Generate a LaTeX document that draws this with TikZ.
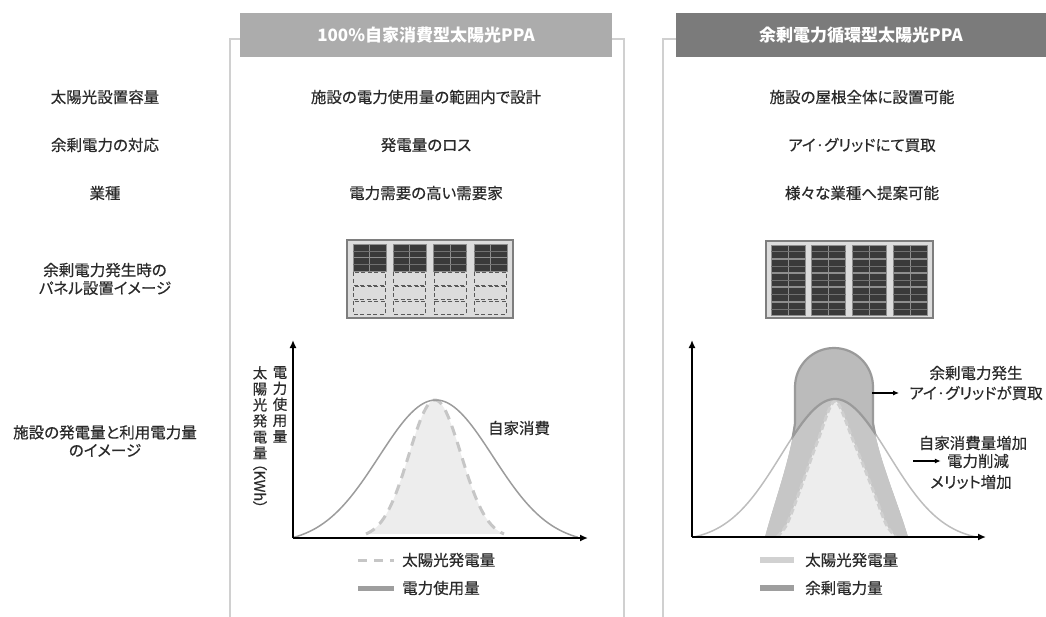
\documentclass[tikz,border=0pt]{standalone}
\usepackage{fontspec}
\setmainfont{Noto Sans CJK JP}[RawFeature=+palt]
\newfontfamily\jpm{Noto Sans CJK JP}[RawFeature=+palt, FakeBold=0.45]
\usetikzlibrary{arrows.meta}
\definecolor{frame}{HTML}{D0D0D0}
\definecolor{hdrL}{HTML}{ACACAC}
\definecolor{hdrR}{HTML}{7B7B7B}
\definecolor{txt}{HTML}{2A2A2A}
\definecolor{panelbg}{HTML}{DCDCDC}
\definecolor{panelbd}{HTML}{7E7E7E}
\definecolor{cellc}{HTML}{3A3A3A}
\definecolor{cellbd}{HTML}{8E8E8E}
\definecolor{curveL}{HTML}{9C9C9C}
\definecolor{dashc}{HTML}{C6C6C6}
\definecolor{lightfill}{HTML}{EDEDED}
\definecolor{bellR}{HTML}{BDBDBD}
\definecolor{bandc}{HTML}{C6C6C6}
\definecolor{capfill}{HTML}{BBBBBB}
\definecolor{capstroke}{HTML}{9A9A9A}
\begin{document}
\begin{tikzpicture}[x=1pt,y=-1pt,
  declare function={
    gwl(\t)=538-max(0,138*(exp(-0.5*((\t-436)/57)*((\t-436)/57))-0.04)/0.96);
    gdl(\t)=538-138*exp(-0.5*((\t-435)/26)*((\t-435)/26));
    gwr(\t)=537-max(0,138*(exp(-0.5*((\t-835)/54)*((\t-835)/54))-0.033)/0.967);
  },
  lbl/.style={font=\jpm\fontsize{15.5}{18}\selectfont, text=txt, inner sep=0pt, align=center},
  vlbl/.style={font=\jpm\fontsize{14.5}{16}\selectfont, text=txt, inner sep=0pt, align=center},
  hdr/.style={font=\bfseries\fontsize{17}{20}\selectfont, text=white, inner sep=0pt, minimum height=44pt},
  frameline/.style={draw=frame, line width=2pt},
  panelbox/.style={draw=panelbd, fill=panelbg, line width=1.6pt, inner sep=0pt},
  darkcell/.style={fill=cellc, draw=cellbd, line width=0.8pt},
  dashcell/.style={draw=black!65, line width=1.1pt, dash pattern=on 4pt off 2.5pt},
  axis/.style={line width=2pt, -{Latex[length=8pt,width=7pt]}},
  smallarrow/.style={line width=1.5pt, -{Latex[length=6pt,width=5pt]}},
  ]
\useasboundingbox (0,0) rectangle (1046,617);

% frames
\draw[frameline] (240,39) -- (230,39) -- (230,617);
\draw[frameline] (612,39) -- (624,39) -- (624,617);
\draw[frameline] (676,39) -- (663,39) -- (663,617);

% headers
\node[hdr, fill=hdrL, minimum width=372pt] (h1) at (426,35) {100\%自家消費型太陽光PPA};
\node[hdr, fill=hdrR, minimum width=370pt] (h2) at (861,35) {余剰電力循環型太陽光PPA};

% row labels
\node[lbl] (r1) at (105,97) {太陽光設置容量};
\node[lbl] (r2) at (105,145) {余剰電力の対応};
\node[lbl] (r3) at (105,193) {業種};
\node[lbl] (r4) at (105,279) {余剰電力発生時の\\パネル設置イメージ};
\node[lbl] (r5) at (105,441) {施設の発電量と利用電力量\\のイメージ};

% column texts
\node[lbl] (a1) at (426,97) {施設の電力使用量の範囲内で設計};
\node[lbl] (a2) at (426,145) {発電量のロス};
\node[lbl] (a3) at (426,193) {電力需要の高い需要家};
\node[lbl] (b1) at (862,97) {施設の屋根全体に設置可能};
\node[lbl] (b2) at (862,145) {アイ·グリッドにて買取};
\node[lbl] (b3) at (862,193) {様々な業種へ提案可能};

% left panel
\node[panelbox, minimum width=166pt, minimum height=78pt] (p1) at (430,279) {};
\foreach \i in {0,...,3}{
  \foreach \r in {0,1}{
    \foreach \c in {0,1}{
      \draw[darkcell] ({353+40.3*\i+16.5*\c},{244+13.7*\r}) rectangle ++(16.5,13.7);
    }
    \draw[cellbd!80!black, line width=0.6pt] ({353+40.3*\i},{244+13.7*\r+6.85}) -- ++(33,0);
  }
  \foreach \r in {0,1,2}{
    \draw[dashcell] ({353.6+40.3*\i},{272.5+14.4*\r}) rectangle ++(32,12.8);
  }
}

% right panel
\node[panelbox, minimum width=167pt, minimum height=77pt] (p2) at (849.5,279.5) {};
\foreach \i in {0,...,3}{
  \foreach \r in {0,...,4}{
    \foreach \c in {0,1}{
      \draw[darkcell] ({771+40.7*\i+17*\c},{245+14.3*\r}) rectangle ++(17,13.3);
    }
    \draw[cellbd!80!black, line width=0.6pt] ({771+40.7*\i},{245+14.3*\r+6.65}) -- ++(34,0);
  }
}

% ---------- left chart ----------
\coordinate (L0) at (293,538);
\coordinate (Ly) at (293,340);
\coordinate (Lx) at (588,538);
\fill[lightfill] plot[domain=366:504, samples=80] (\x,{gdl(\x)}) -- cycle;
\draw[dashc, line width=3pt, dash pattern=on 10pt off 7pt] plot[domain=366:504, samples=80] (\x,{gdl(\x)});
\draw[curveL, line width=1.5pt] plot[domain=294:578, samples=120] (\x,{gwl(\x)});
\draw[axis] (L0) -- (Ly);
\draw[axis] (L0) -- (Lx);
\node[lbl] (lc) at (519,428) {自家消費};
\node[vlbl, anchor=north] (yl1) at (280,366) {電\\力\\使\\用\\量};
\node[vlbl, anchor=north] (yl2) at (260,366) {太\\陽\\光\\発\\電\\量};
\node[vlbl, rotate=-90, anchor=west] (yl3) at (260,463) {（KWh）};

% left legend
\coordinate (lg1a) at (358,560); \coordinate (lg1b) at (394,560);
\coordinate (lg2a) at (358,588); \coordinate (lg2b) at (394,588);
\draw[dashc, line width=3pt, dash pattern=on 9pt off 7pt] (lg1a) -- (lg1b);
\draw[black!38, line width=5pt] (lg2a) -- (lg2b);
\node[lbl, anchor=west] (lt1) at (402,560) {太陽光発電量};
\node[lbl, anchor=west] (lt2) at (402,588) {電力使用量};

% ---------- right chart ----------
\coordinate (R0) at (692,537);
\coordinate (Ry) at (692,340);
\coordinate (Rx) at (986,537);
\def\outerpath{(765,537) .. controls (775,500) and (790,460) .. (795,423) -- (795,387) arc[start angle=180, end angle=360, radius=39] -- (873,423) .. controls (879,460) and (897,500) .. (908,537) -- cycle}
\fill[capfill] \outerpath;
\begin{scope}
  \clip \outerpath;
  \fill[bandc] (694,537) -- plot[domain=694:978, samples=120] (\x,{gwr(\x)}) -- cycle;
\end{scope}
\fill[lightfill] plot[smooth, tension=0.5] coordinates {(777,537) (787,524) (800,490) (818,440) (835,401) (853,440) (873,490) (886,524) (896,537)} -- cycle;
\draw[dashc!85!white, line width=3pt, dash pattern=on 6pt off 3pt] plot[smooth, tension=0.5] coordinates {(777,537) (787,524) (800,490) (818,440) (835,401) (853,440) (873,490) (886,524) (896,537)};
\draw[bellR, line width=1.5pt] plot[domain=694:978, samples=120] (\x,{gwr(\x)});
\begin{scope}
  \clip (694,330) -- plot[domain=694:978, samples=120] (\x,{gwr(\x)}) -- (978,330) -- cycle;
  \draw[capstroke, line width=2.2pt] \outerpath;
\end{scope}
\begin{scope}
  \clip \outerpath;
  \draw[capstroke, line width=2.2pt] plot[domain=790:880, samples=40] (\x,{gwr(\x)});
\end{scope}
\draw[axis] (R0) -- (Ry);
\draw[axis] (R0) -- (Rx);

% right annotations
\node[lbl] (n1) at (976,373) {余剰電力発生};
\node[lbl] (n2) at (976,393) {アイ·グリッドが買取};
\coordinate (a1s) at (872,393);
\draw[smallarrow] (a1s) -- ([xshift=-10pt]n2.west);
\node[lbl] (n3) at (973,443) {自家消費量増加};
\node[lbl] (n4) at (978,461) {電力削減};
\node[lbl] (n5) at (971,482) {メリット増加};
\coordinate (a2s) at (913,461);
\draw[smallarrow] (a2s) -- ([xshift=-6pt]n4.west);

% right legend
\coordinate (rg1a) at (760,560); \coordinate (rg1b) at (794,560);
\coordinate (rg2a) at (760,588); \coordinate (rg2b) at (794,588);
\draw[black!18, line width=6pt] (rg1a) -- (rg1b);
\draw[black!38, line width=6pt] (rg2a) -- (rg2b);
\node[lbl, anchor=west] (rt1) at (805,560) {太陽光発電量};
\node[lbl, anchor=west] (rt2) at (805,588) {余剰電力量};
\end{tikzpicture}
\end{document}
